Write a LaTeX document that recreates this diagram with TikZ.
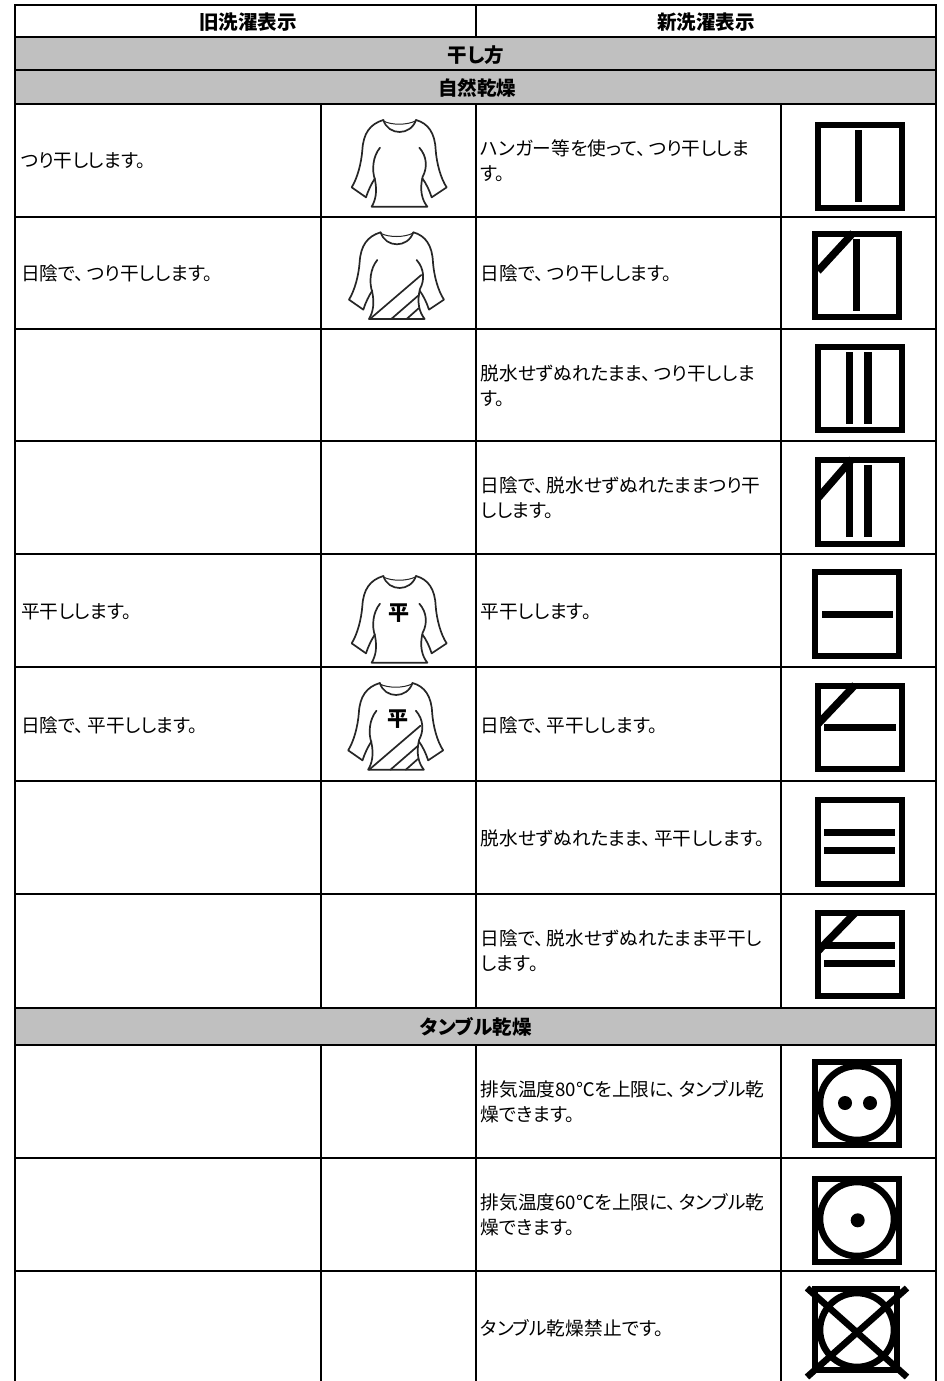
\documentclass[tikz,border=0pt]{standalone}
\usepackage{fontspec}
\setmainfont{Noto Sans CJK JP}[RawFeature=+palt]
\newcommand{\tenmaru}{、\kern3pt\relax}
\tikzset{
  x=1pt,y=-1pt,
  rule/.style={draw=black,line width=2pt},
  band/.style={fill=bandgray,draw=none},
  cell/.style={anchor=west,inner sep=0pt,font=\fontsize{18.7}{25}\selectfont,align=left,text=black},
  head/.style={anchor=center,inner sep=0pt,font=\fontsize{19.5}{20}\selectfont\bfseries,text=black},
  symbox/.style={draw=black,line width=5.8pt,miter limit=10},
  symdiag/.style={draw=black,line width=7.5pt},
  symcirc/.style={draw=black,line width=6.6pt},
  shirtline/.style={draw=black!85,line width=1.7pt,line cap=round,line join=round},
}
\definecolor{bandgray}{HTML}{C0C0C0}
\newcommand{\shirtbody}{
  \draw[shirtline] (190,360) .. controls (150,372) and (130,400) .. (127,450)
     .. controls (124,490) and (112,535) .. (95,562) -- (138,592)
     .. controls (145,570) and (155,550) .. (165,535);
  \draw[shirtline] (180,443) .. controls (158,470) and (155,510) .. (165,540)
     .. controls (172,575) and (167,600) .. (155,620) -- (322,620)
     .. controls (306,600) and (298,570) .. (308,530)
     .. controls (322,505) and (322,470) .. (298,443);
  \draw[shirtline] (288,360) .. controls (325,370) and (345,400) .. (347,450)
     .. controls (350,490) and (362,535) .. (380,562) -- (335,592)
     .. controls (328,570) and (318,550) .. (307,535);
  \draw[shirtline] (190,360) .. controls (205,408) and (272,408) .. (288,360);
  \draw[shirtline,line width=1pt] (190,363) .. controls (215,376) and (262,376) .. (288,362);
}
\newcommand{\shirtstripes}{
  \draw[shirtline] (158,620) -- (312,488);
  \draw[shirtline] (222,620) -- (305,548);
  \draw[shirtline] (268,620) -- (304,588);
}
\begin{document}
\begin{tikzpicture}
\useasboundingbox (0,0) rectangle (944,1381);
\fill[white] (0,0) rectangle (944,1381);
% bands
\path[band] (15,37.5) rectangle (936,104);
\path[band] (15,1008) rectangle (936,1045);
% rules
\foreach \yy in {5.5,37.5,70.5,104,216.5,328.5,441,554,667,781,894,1008,1045,1158,1271}
  \draw[rule] (14,\yy) -- (937,\yy);
\draw[rule] (15,4.5) -- (15,1381);
\draw[rule] (936,4.5) -- (936,1381);
\draw[rule] (476,5) -- (476,37.5);
\foreach \xx in {476,780.5,320.5}{
  \draw[rule] (\xx,104) -- (\xx,1008);
  \draw[rule] (\xx,1045) -- (\xx,1381);
}
% headers
\node[head] (h1) at (248,22) {旧洗濯表示};
\node[head] (h2) at (706,22) {新洗濯表示};
\node[head] (h3) at (476,55) {干し方};
\node[head] (h4) at (477,88) {自然乾燥};
\node[head] (h5) at (476,1027) {タンブル乾燥};
% left cells
\node[cell] (l1) at (20.5,161) {つり干しします。};
\node[cell] (l2) at (21,273.5) {日陰で\tenmaru つり干しします。};
\node[cell] (l3) at (21,612) {平干しします。};
\node[cell] (l4) at (21,725) {日陰で\tenmaru 平干しします。};
% right cells
\node[cell] (r1) at (480.5,161) {ハンガー等を使って\tenmaru つり干ししま\\す。};
\node[cell] (r2) at (480.5,273.5) {日陰で\tenmaru つり干しします。};
\node[cell] (r3) at (480.5,386) {脱水せずぬれたまま\tenmaru つり干ししま\\す。};
\node[cell] (r4) at (480.5,498) {日陰で\tenmaru 脱水せずぬれたままつり干\\しします。};
\node[cell] (r5) at (480.5,612) {平干しします。};
\node[cell] (r6) at (480.5,725) {日陰で\tenmaru 平干しします。};
\node[cell] (r7) at (480.5,838) {脱水せずぬれたまま\tenmaru 平干しします。};
\node[cell] (r8) at (480.5,951) {日陰で\tenmaru 脱水せずぬれたまま平干し\\します。};
\node[cell] (r9) at (480.5,1102) {排気温度80℃を上限に\tenmaru タンブル乾\\燥できます。};
\node[cell] (r10) at (480.5,1215) {排気温度60℃を上限に\tenmaru タンブル乾\\燥できます。};
\node[cell] (r11) at (480.5,1328) {タンブル乾燥禁止です。};
% shirts
\begin{scope}[shift={(320,0)},x=0.33333pt,y=-0.33333pt]
  \shirtbody
\end{scope}
\begin{scope}[shift={(317.3,112.3)},x=0.33333pt,y=-0.33333pt]
  \shirtbody\shirtstripes
\end{scope}
\begin{scope}[shift={(320,456)},x=0.33333pt,y=-0.33333pt]
  \shirtbody
\end{scope}
\begin{scope}[shift={(316.5,563)},x=0.33333pt,y=-0.33333pt]
  \shirtbody\shirtstripes
\end{scope}
\node[inner sep=0pt,font=\fontsize{21}{21}\selectfont\bfseries] (hei1) at (399,613) {平};
\node[inner sep=0pt,font=\fontsize{21}{21}\selectfont\bfseries] (hei2) at (398,719) {平};
% symbols
\draw[symbox] (818,125) rectangle (902,208);
\fill (855,130) rectangle (862,202);
\draw[symbox] (815,233.6) rectangle (899,317);
\fill (852.7,239) rectangle (860,311);
\draw[symdiag] (818,271) -- (853,233);
\draw[symbox] (818,347) rectangle (902,430);
\fill (846,352) rectangle (853.3,424);
\fill (864.3,352) rectangle (871.7,424);
\draw[symbox] (818,459.6) rectangle (902,543.8);
\fill (846,460) rectangle (853.3,537);
\fill (864.3,465) rectangle (871.7,537);
\draw[symdiag] (818,498) -- (852,459);
\draw[symbox] (815,572) rectangle (899,656);
\fill (822,611) rectangle (893,618);
\draw[symbox] (818,686) rectangle (902,769);
\fill (824,724) rectangle (896,731);
\draw[symdiag] (818,724) -- (855,685);
\draw[symbox] (818,800) rectangle (902,884);
\fill (824,829) rectangle (895,836);
\fill (824,847) rectangle (895,854);
\draw[symbox] (818,913) rectangle (902,996);
\fill (822,942) rectangle (895,948.5);
\fill (824,960) rectangle (895,967);
\draw[symdiag] (818,951) -- (855,913);
\draw[symbox] (815,1062) rectangle (899,1145);
\draw[symcirc] (857,1103) circle[radius=37pt];
\fill (845,1103) circle[radius=7pt];
\fill (870,1103) circle[radius=7pt];
\draw[symbox] (815,1179) rectangle (899,1262);
\draw[symcirc] (857,1219) circle[radius=37pt];
\fill (857.7,1220.3) circle[radius=7pt];
\draw[symbox] (815,1289) rectangle (897,1370);
\draw[symcirc] (857,1330) circle[radius=37pt];
\draw[symcirc] (807,1288) -- (907,1377);
\draw[symcirc] (907,1288) -- (807,1377);
\end{tikzpicture}
\end{document}
